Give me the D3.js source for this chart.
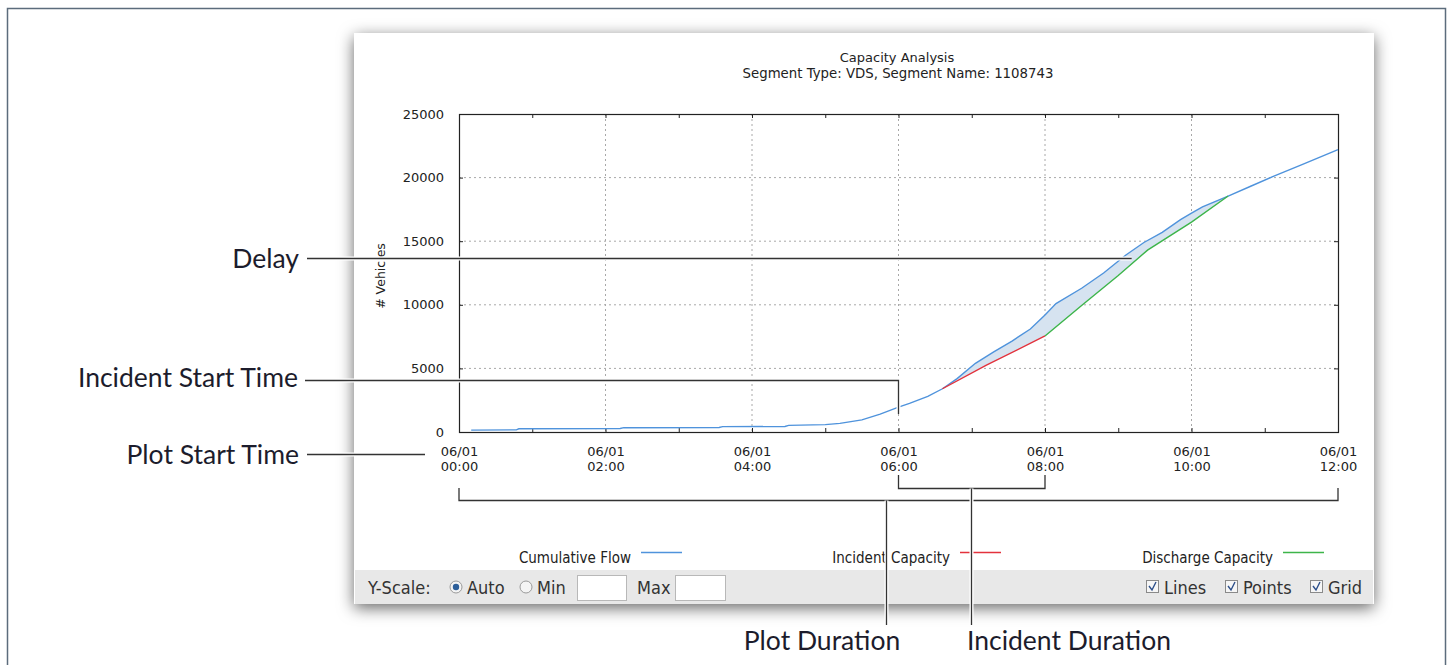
<!DOCTYPE html>
<html>
<head>
<meta charset="utf-8">
<script src="https://cdn.jsdelivr.net/npm/d3@7"></script>
<style>
  body { margin: 0; background: #fff; }
  svg { display: block; }
</style>
</head>
<body>
<div id="chart"></div>
<script>
// data
const flowTimes = ["00:10", "00:47", "00:49", "02:12", "02:15", "03:33", "03:36", "04:27", "04:30", "05:00",
  "05:12", "05:30", "05:45", "06:00", "06:09", "06:24", "06:36", "06:48", "07:03", "07:18", "07:33", "07:48",
  "08:00", "08:09", "08:30", "08:48", "09:06", "09:21", "09:36", "09:51", "10:00", "10:09", "10:30", "10:48",
  "11:06", "11:30", "12:00"];
const flowValues = [150, 170, 250, 280, 340, 350, 420, 430, 520, 580,
  680, 950, 1400, 1950, 2250, 2800, 3400, 4200, 5400, 6300, 7150, 8100,
  9200, 10100, 11300, 12500, 13900, 14900, 15700, 16700, 17200, 17700, 18550, 19300,
  20050, 21000, 22200];

const incidentTimes = ["06:36", "07:12", "08:00"];
const incidentValues = [3400, 5250, 7550];

const dischargeTimes = ["08:00", "08:30", "09:00", "09:24", "10:00", "10:30"];
const dischargeValues = [7550, 9950, 12300, 14300, 16500, 18550];

const seriesNames = ["Cumulative Flow", "Incident Capacity", "Discharge Capacity"];
const yTicks = [0, 5000, 10000, 15000, 20000, 25000];
const plotStart = "00:00", plotEnd = "12:00";
const incidentStart = "06:00", incidentEnd = "08:00";
const delayPoint = ["09:11", 13700];

const COLORS = ["#4f93dc", "#e3323c", "#3db54a"];
const CHART_FONT = "'DejaVu Sans', Verdana, sans-serif";
const UI_FONT = "'DejaVu Sans Condensed', 'Liberation Sans Narrow', 'DejaVu Sans', sans-serif";
const NOTE_FONT = "Lato, 'Open Sans', sans-serif";

const WIDTH = 1448, HEIGHT = 665;
const PLOT = { LEFT: 459, RIGHT: 1338, TOP: 114, BOTTOM: 432 };

const parseTime = (s) => d3.timeParse("%Y-%m-%d %H:%M")("2010-06-01 " + s);

const svg = d3.select("#chart").append("svg")
  .attr("width", WIDTH)
  .attr("height", HEIGHT);

const defs = svg.append("defs");
defs.append("filter")
  .attr("id", "shadow")
  .attr("x", "-5%").attr("y", "-8%").attr("width", "110%").attr("height", "120%")
  .append("feDropShadow")
  .attr("dx", 0).attr("dy", 4)
  .attr("stdDeviation", 8)
  .attr("flood-color", "#000")
  .attr("flood-opacity", 0.6);

// outer figure frame
svg.append("rect")
  .attr("x", 7.5).attr("y", 8.5)
  .attr("width", 1438).attr("height", 720)
  .style("fill", "#fff")
  .style("stroke", "#5c6c7c")
  .style("stroke-width", 1.5);

// application panel
svg.append("rect")
  .attr("x", 354).attr("y", 33)
  .attr("width", 1020).attr("height", 571)
  .style("fill", "#fff")
  .attr("filter", "url(#shadow)");

svg.append("rect")
  .attr("x", 355).attr("y", 570)
  .attr("width", 1018).attr("height", 34)
  .style("fill", "#e8e8e8");

// titles
svg.append("text")
  .attr("x", 897).attr("y", 62)
  .attr("text-anchor", "middle")
  .style("font-family", CHART_FONT).style("font-size", "13px").style("fill", "#222")
  .text("Capacity Analysis");
svg.append("text")
  .attr("x", 898).attr("y", 78)
  .attr("text-anchor", "middle")
  .style("font-family", CHART_FONT).style("font-size", "13.3px").style("fill", "#222")
  .text("Segment Type: VDS, Segment Name: 1108743");

// scales
const x = d3.scaleTime()
  .domain([parseTime(plotStart), parseTime(plotEnd)])
  .range([PLOT.LEFT, PLOT.RIGHT]);
const y = d3.scaleLinear()
  .domain([0, 25000])
  .range([PLOT.BOTTOM, PLOT.TOP]);

const plot = svg.append("g");

// GRID
plot.append("g")
  .selectAll("line")
  .data(x.ticks(d3.timeHour.every(2)).slice(1, -1))
  .enter()
  .append("line")
  .attr("x1", (d) => x(d)).attr("x2", (d) => x(d))
  .attr("y1", PLOT.TOP).attr("y2", PLOT.BOTTOM)
  .style("stroke", "#a8a8a8")
  .style("stroke-dasharray", "2,3");

plot.append("g")
  .selectAll("line")
  .data(yTicks.slice(1, -1))
  .enter()
  .append("line")
  .attr("x1", PLOT.LEFT).attr("x2", PLOT.RIGHT)
  .attr("y1", (d) => y(d)).attr("y2", (d) => y(d))
  .style("stroke", "#a8a8a8")
  .style("stroke-dasharray", "2,3");

// AXES (ticks point inward on all four sides)
const tickStyle = (g) => {
  g.select(".domain").remove();
  g.selectAll(".tick line").style("stroke", "#222");
};

plot.append("g")
  .attr("transform", `translate(0, ${PLOT.BOTTOM})`)
  .call(d3.axisBottom(x).ticks(d3.timeHour.every(1)).tickSize(-4).tickFormat(""))
  .call(tickStyle);
plot.append("g")
  .attr("transform", `translate(0, ${PLOT.TOP})`)
  .call(d3.axisTop(x).ticks(d3.timeHour.every(1)).tickSize(-4).tickFormat(""))
  .call(tickStyle);
plot.append("g")
  .attr("transform", `translate(${PLOT.LEFT}, 0)`)
  .call(d3.axisLeft(y).tickValues(yTicks).tickSize(-4).tickPadding(15).tickFormat(d3.format("d")))
  .call(tickStyle)
  .call((g) => g.selectAll("text")
    .style("font-family", CHART_FONT).style("font-size", "13px").style("fill", "#222"));
plot.append("g")
  .attr("transform", `translate(${PLOT.RIGHT}, 0)`)
  .call(d3.axisRight(y).tickValues(yTicks).tickSize(-4).tickFormat(""))
  .call(tickStyle);

const fmtDay = d3.timeFormat("%m/%d");
const fmtHour = d3.timeFormat("%H:%M");
plot.append("g")
  .attr("transform", `translate(0, ${PLOT.BOTTOM})`)
  .call(d3.axisBottom(x).ticks(d3.timeHour.every(2)).tickSize(0).tickPadding(15))
  .call((g) => g.select(".domain").remove())
  .call((g) => g.selectAll(".tick text").each(function (d) {
    const t = d3.select(this);
    t.text(null)
      .style("font-family", CHART_FONT).style("font-size", "13px").style("fill", "#222");
    t.append("tspan").attr("x", 0).text(fmtDay(d));
    t.append("tspan").attr("x", 0).attr("dy", "15").text(fmtHour(d));
  }));

plot.append("rect")
  .attr("x", PLOT.LEFT + 0.5).attr("y", PLOT.TOP + 0.5)
  .attr("width", PLOT.RIGHT - PLOT.LEFT).attr("height", PLOT.BOTTOM - PLOT.TOP)
  .style("fill", "none")
  .style("stroke", "#222")
  .style("stroke-width", 1.2);

svg.append("text")
  .attr("transform", "translate(385, 276) rotate(-90)")
  .attr("text-anchor", "middle")
  .style("font-family", CHART_FONT).style("font-size", "12.5px").style("fill", "#222")
  .text("# Vehicles");

// SERIES
const toPoints = (times, values) => times.map((t, i) => ({ t: parseTime(t), v: values[i] }));
const flow = toPoints(flowTimes, flowValues);
const incident = toPoints(incidentTimes, incidentValues);
const discharge = toPoints(dischargeTimes, dischargeValues);

const line = d3.line().x((d) => x(d.t)).y((d) => y(d.v));

// delay area between flow and capacity
const capacity = incident.concat(discharge.slice(1));
const capStart = capacity[0].t, capEnd = capacity[capacity.length - 1].t;
const delayPoly = flow.filter((d) => d.t >= capStart && d.t <= capEnd)
  .concat(capacity.slice().reverse());
plot.append("path")
  .attr("d", line(delayPoly) + "Z")
  .style("fill", "#d6e3f0")
  .style("stroke", "none");

[flow, incident, discharge].forEach((s, i) => {
  plot.append("path")
    .datum(s)
    .attr("d", line)
    .style("fill", "none")
    .style("stroke", COLORS[i])
    .style("stroke-width", 1.4);
});

// LEGEND
const legendX = [631, 950, 1273];
const legend = svg.append("g")
  .selectAll("g")
  .data(seriesNames)
  .enter()
  .append("g")
  .attr("transform", (d, i) => `translate(${legendX[i]}, 552)`);
legend.append("text")
  .attr("x", 0).attr("y", 11)
  .attr("text-anchor", "end")
  .style("font-family", UI_FONT).style("font-size", "15px").style("fill", "#222")
  .text((d) => d);
legend.append("line")
  .attr("x1", 10).attr("x2", 51)
  .attr("y1", 0.5).attr("y2", 0.5)
  .style("stroke", (d, i) => COLORS[i])
  .style("stroke-width", 1.3);

// CONTROL BAR
const ui = svg.append("g")
  .style("font-family", UI_FONT).style("font-size", "18px").style("fill", "#333");
ui.append("text").attr("x", 368).attr("y", 594).text("Y-Scale:");
[[456, true, "Auto"], [526, false, "Min"]].forEach(([cx, on, label]) => {
  ui.append("circle").attr("cx", cx).attr("cy", 587).attr("r", 6)
    .style("fill", "#f4f4f4").style("stroke", "#9a9a9a");
  if (on) {
    ui.append("circle").attr("cx", cx).attr("cy", 587).attr("r", 3.2).style("fill", "#2d5f9a");
  }
  ui.append("text").attr("x", cx + 11).attr("y", 594).text(label);
});
ui.append("rect").attr("x", 577.5).attr("y", 575.5).attr("width", 49).attr("height", 25)
  .style("fill", "#fff").style("stroke", "#b8b8b8");
ui.append("text").attr("x", 637).attr("y", 594).text("Max");
ui.append("rect").attr("x", 675.5).attr("y", 575.5).attr("width", 50).attr("height", 25)
  .style("fill", "#fff").style("stroke", "#b8b8b8");
[[1146, "Lines"], [1225, "Points"], [1310, "Grid"]].forEach(([bx, label]) => {
  ui.append("rect").attr("x", bx + 0.5).attr("y", 580.5).attr("width", 12).attr("height", 12)
    .style("fill", "#f6f6f6").style("stroke", "#8a8a8a");
  ui.append("path")
    .attr("d", `M${bx + 3},${586} L${bx + 6},${590} L${bx + 10},${582}`)
    .style("fill", "none").style("stroke", "#2d4f8a").style("stroke-width", 1.4);
  ui.append("text").attr("x", bx + 18).attr("y", 594).text(label);
});

// ANNOTATIONS
const notes = svg.append("g");
function noteLine(points) {
  const d = d3.line()(points);
  notes.append("path").attr("d", d)
    .style("fill", "none").style("stroke", "#fff").style("stroke-width", 4);
  notes.append("path").attr("d", d)
    .style("fill", "none").style("stroke", "#333").style("stroke-width", 1.3);
}
function noteText(tx, ty, anchor, label) {
  notes.append("text")
    .attr("x", tx).attr("y", ty)
    .attr("text-anchor", anchor)
    .style("font-family", NOTE_FONT).style("font-size", "26.5px").style("fill", "#1c1c2c")
    .text(label);
}

const xs = x(parseTime(plotStart)), xe = x(parseTime(plotEnd));
const xi0 = x(parseTime(incidentStart)), xi1 = x(parseTime(incidentEnd));

noteLine([[307, 258.5], [x(parseTime(delayPoint[0])), 258.5]]);
noteText(299, 267.5, "end", "Delay");

noteLine([[305, 380.5], [xi0, 380.5], [xi0, 414]]);
noteText(298, 386.5, "end", "Incident Start Time");

noteLine([[307, 454.5], [425, 454.5]]);
noteText(299, 463.5, "end", "Plot Start Time");

noteLine([[xs, 488], [xs, 500.5], [xe, 500.5], [xe, 488]]);
noteLine([[886.5, 500.5], [886.5, 625]]);
noteText(822, 649.5, "middle", "Plot Duration");

noteLine([[xi0, 475], [xi0, 488.5], [xi1, 488.5], [xi1, 475]]);
noteLine([[971.5, 488.5], [971.5, 625]]);
noteText(1069, 649.5, "middle", "Incident Duration");
</script>
</body>
</html>
